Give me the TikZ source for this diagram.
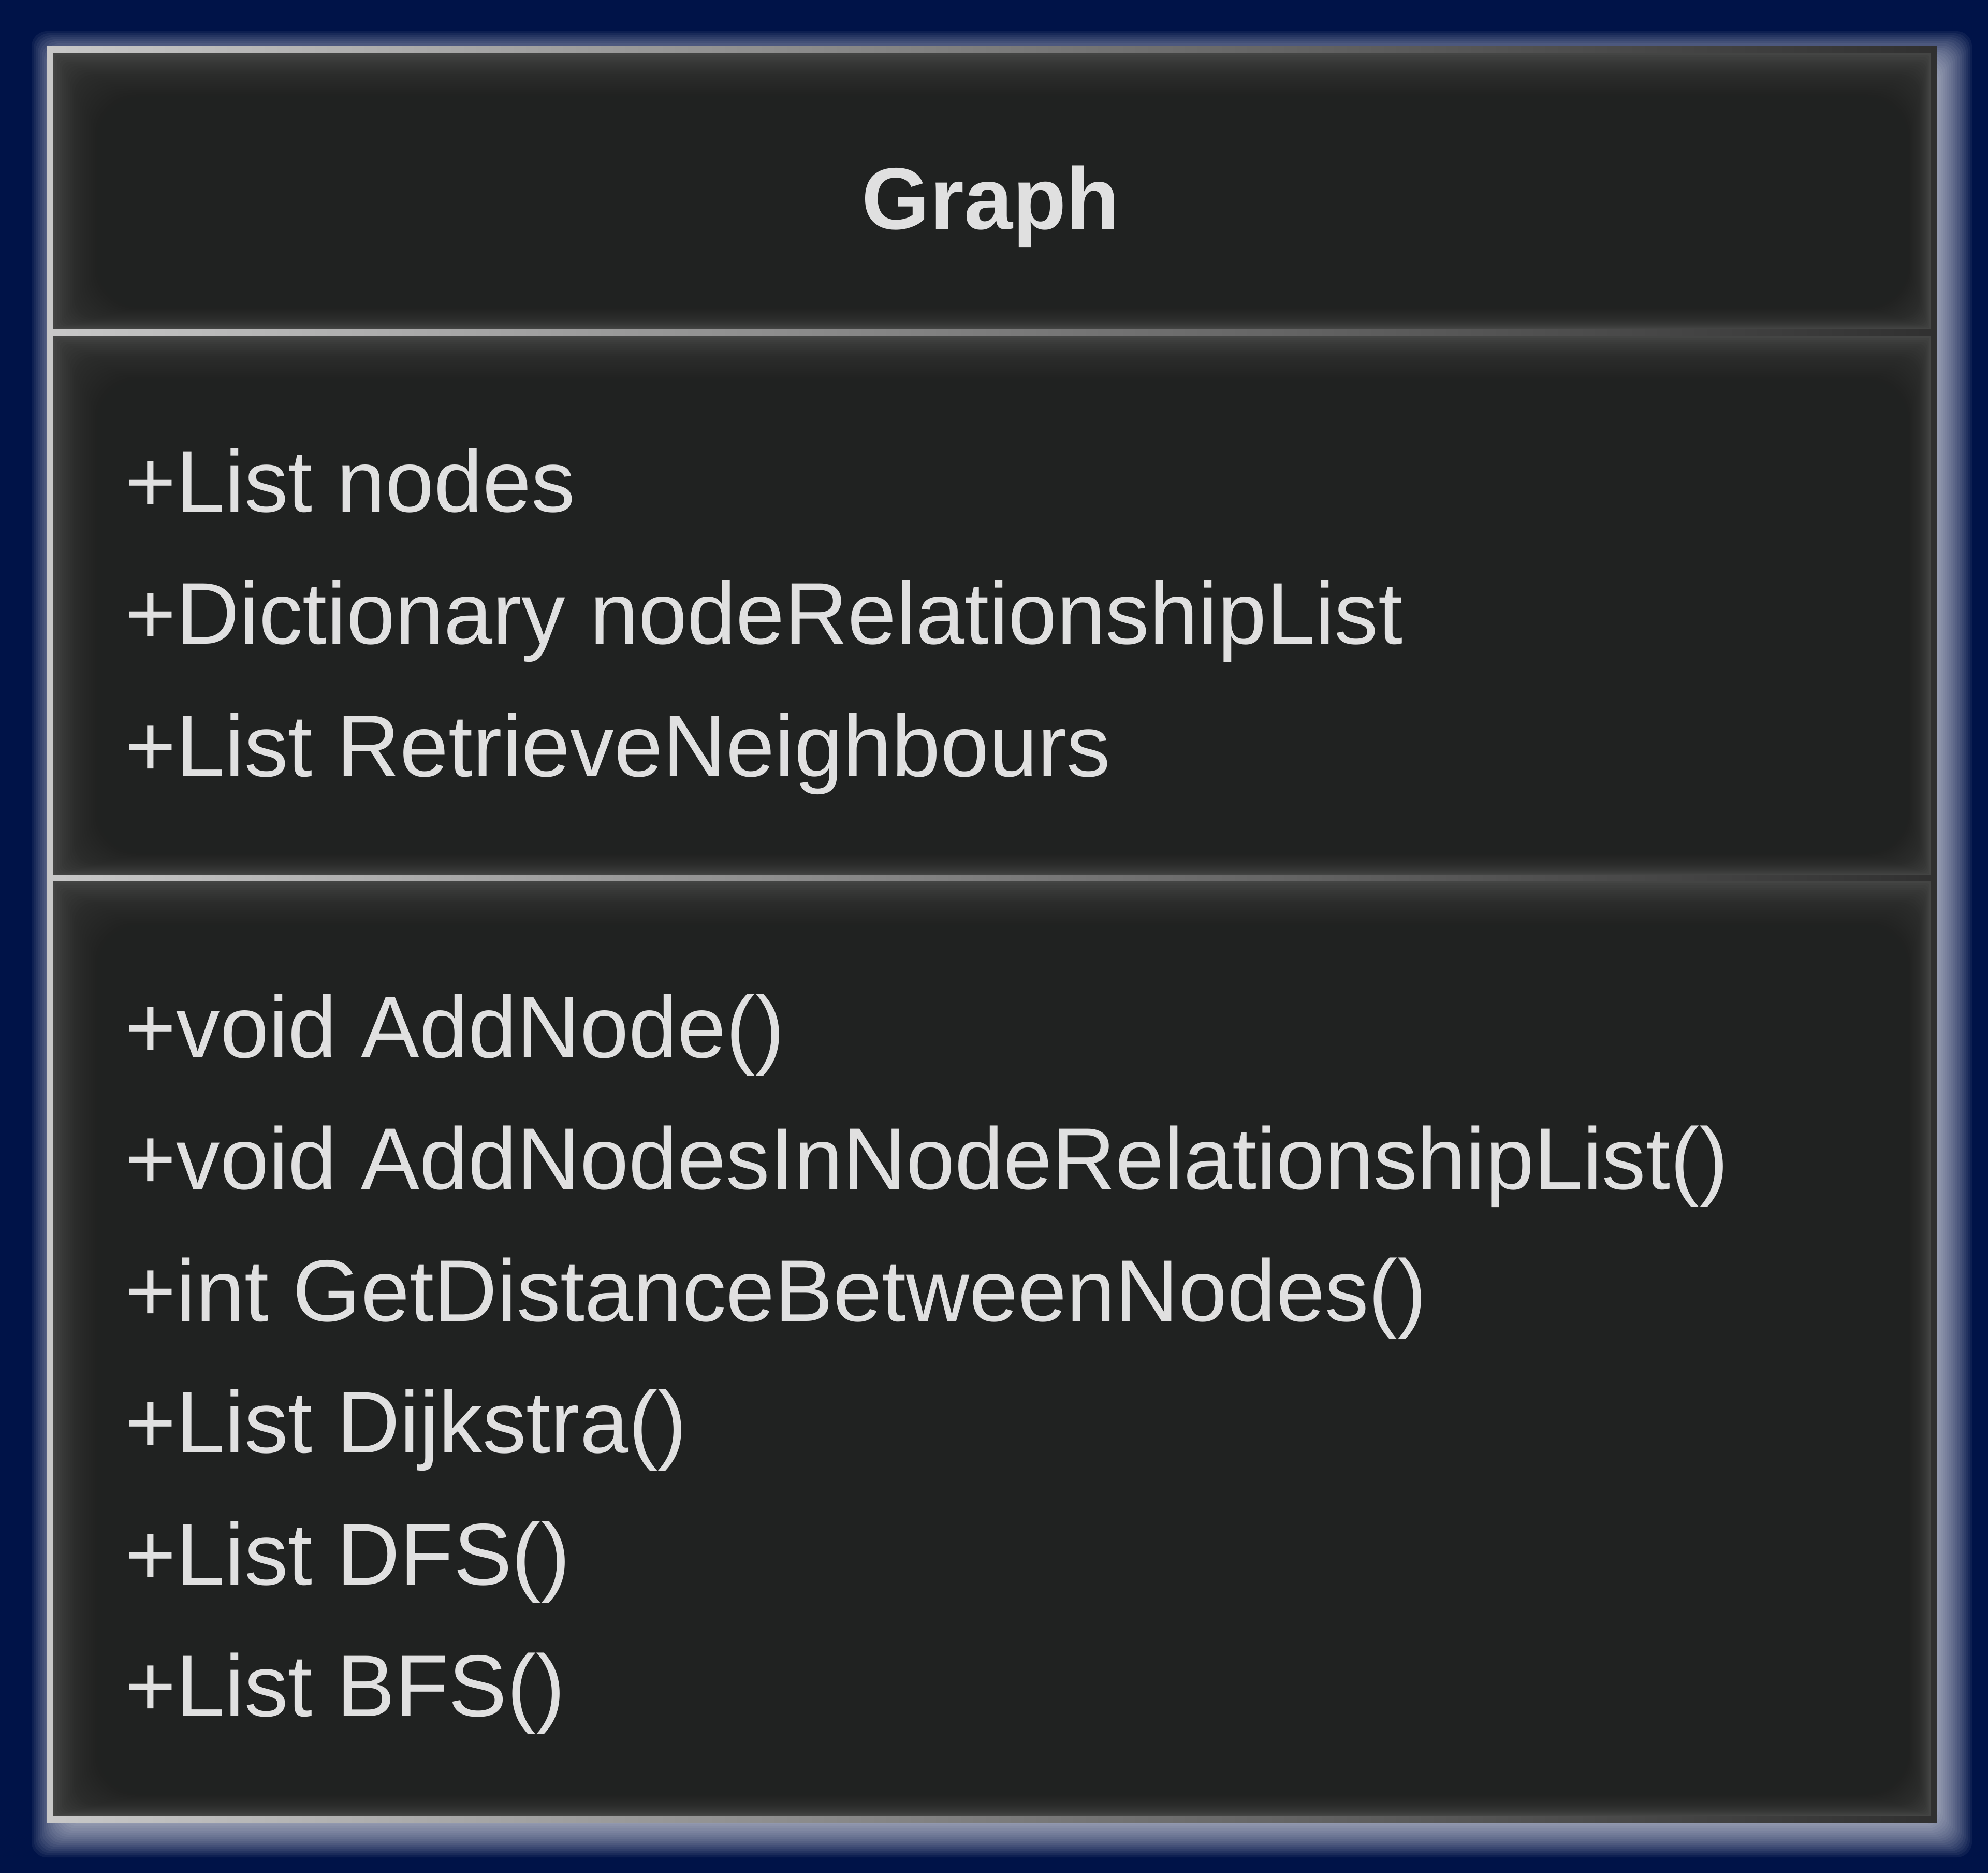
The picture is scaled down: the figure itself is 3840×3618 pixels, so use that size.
\documentclass[tikz,border=0pt]{standalone}
\usepackage{fontspec}
\setmainfont{Liberation Sans}
\definecolor{navybg}{RGB}{0,19,72}
\definecolor{panelfill}{RGB}{32,34,33}
\definecolor{panelglow}{RGB}{72,73,72}
\definecolor{labeltext}{RGB}{224,224,224}
\definecolor{frameleft}{RGB}{200,200,200}
\definecolor{frameright}{RGB}{48,48,48}

\begin{document}
\begin{tikzpicture}[x=0.01cm, y=-0.01cm,
    title/.style={anchor=base, inner sep=0, text=labeltext,
                  font=\fontsize{48.1}{57}\selectfont\bfseries},
    member/.style={anchor=base west, inner sep=0, text=labeltext,
                   font=\fontsize{48.1}{57}\selectfont},
    glowlayer/.style={white, opacity=0.05, rounded corners=30*0.2845pt}]

% page and outer glow
\fill[navybg] (0,0) rectangle (3840,3618);
\useasboundingbox (0,0) rectangle (3840,3618);
\foreach \r in {-50,-46,...,50}
  \fill[glowlayer] ({111-(\r)},{110-(\r)}) rectangle ({3759+(\r)},{3537+(\r)});

% frame, light on the left and dark on the right
\fill[left color=frameleft, right color=frameright] (91,90) rectangle (3741,3519);

% the three compartments
\foreach \ya/\yb in {103/636, 648/1690, 1702/3507} {
  \fill[panelglow] (103,\ya) rectangle (3729,\yb);
  \foreach \i in {0,4,...,80}
    \fill[panelfill, opacity=0.085, rounded corners=\i*0.2845pt]
      ({103+\i},{\ya+\i}) rectangle ({3729-0.5*\i},{\yb-0.5*\i});
  \fill[panelfill, rounded corners=84*0.2845pt]
    (187,{\ya+84}) rectangle ({3729-0.5*84},{\yb-0.5*84});
}

\node[title] (title) at (1914,442) {Graph};

\node[member] (nodes) at (241,988) {+List nodes};
\node[member] (relations) at (241,1243) {+Dictionary nodeRelationshipList};
\node[member] (neighbours) at (241,1499) {+List RetrieveNeighbours};

\node[member] (addnode) at (241,2042) {+void AddNode()};
\node[member] (addnodes) at (241,2296) {+void AddNodesInNodeRelationshipList()};
\node[member] (distance) at (241,2551) {+int GetDistanceBetweenNodes()};
\node[member] (dijkstra) at (241,2805) {+List Dijkstra()};
\node[member] (dfs) at (241,3060) {+List DFS()};
\node[member] (bfs) at (241,3314) {+List BFS()};
\end{tikzpicture}
\end{document}
